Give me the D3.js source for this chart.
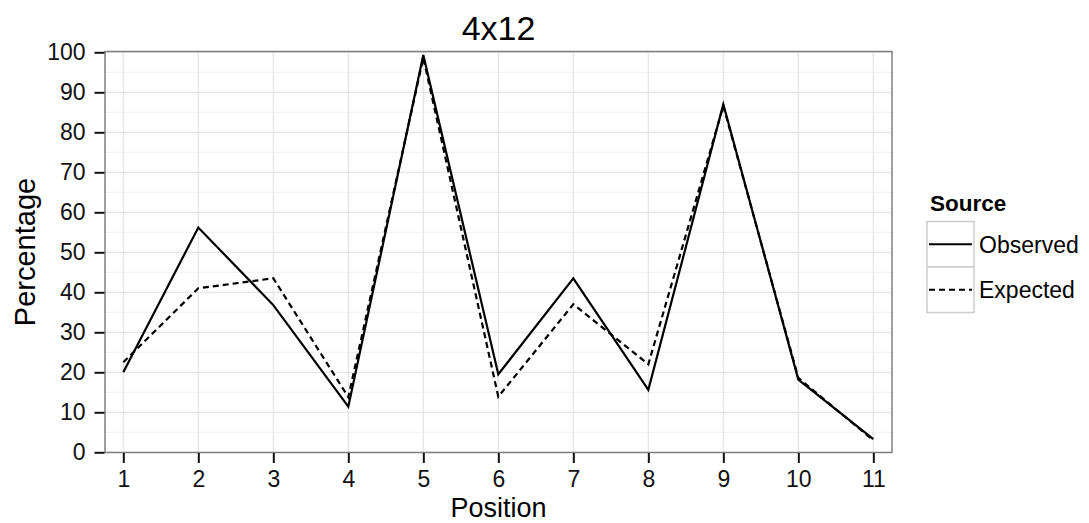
<!DOCTYPE html>
<html><head><meta charset="utf-8">
<script src="https://cdn.jsdelivr.net/npm/d3@7"></script>
<style>body{margin:0;background:#fff;} text{font-family:"Liberation Sans",Arial,sans-serif;}</style>
</head><body>
<script>
const positions = [1,2,3,4,5,6,7,8,9,10,11];
const observed = [20, 56.2, 36.8, 11.4, 99.3, 19.5, 43.5, 15.6, 87, 18.2, 3.3];
const expected = [22.5, 41, 43.5, 13.8, 98.6, 13.9, 37, 22, 86.6, 18.6, 3];
const yTicks = [0,10,20,30,40,50,60,70,80,90,100];
const yMinor = [5,15,25,35,45,55,65,75,85,95];
const seriesNames = ["Observed","Expected"];
const chartTitle = "4x12";

const W = 1089, H = 523;
const pL = 105, pR = 892, pT = 51.5, pB = 452.5;
const svg = d3.select("body").append("svg").attr("width", W).attr("height", H);

const x = d3.scaleLinear().domain([0.756, 11.249]).range([pL, pR]);
const y = d3.scaleLinear().domain([0, 100]).range([452.3, 52.3]);

svg.append("rect").attr("x", pL).attr("y", pT).attr("width", pR-pL).attr("height", pB-pT).attr("fill", "#fff");

const g = svg.append("g");
g.selectAll(".ymin").data(yMinor).enter().append("line")
  .attr("x1", pL).attr("x2", pR).attr("y1", d=>y(d)).attr("y2", d=>y(d))
  .attr("stroke", "#f3f3f3").attr("stroke-width", 1.3);
g.selectAll(".ymaj").data(yTicks).enter().append("line")
  .attr("x1", pL).attr("x2", pR).attr("y1", d=>y(d)).attr("y2", d=>y(d))
  .attr("stroke", "#e6e6e6").attr("stroke-width", 1.3);
g.selectAll(".xmaj").data(positions).enter().append("line")
  .attr("y1", pT).attr("y2", pB).attr("x1", d=>x(d)).attr("x2", d=>x(d))
  .attr("stroke", "#e6e6e6").attr("stroke-width", 1.3);

const line = d3.line().x((d,i)=>x(positions[i])).y(d=>y(d));
svg.append("path").datum(expected).attr("d", line).attr("fill","none")
  .attr("stroke","#000").attr("stroke-width",2.2).attr("stroke-dasharray","6,4");
svg.append("path").datum(observed).attr("d", line).attr("fill","none")
  .attr("stroke","#000").attr("stroke-width",2.2);

svg.append("rect").attr("x", pL).attr("y", pT).attr("width", pR-pL).attr("height", pB-pT)
  .attr("fill", "none").attr("stroke", "#7f7f7f").attr("stroke-width", 1.5);

// axes
const yAxis = d3.axisLeft(y).tickValues(yTicks).tickSize(10).tickPadding(9);
const ya = svg.append("g").attr("transform", `translate(${pL-0.5},0)`).call(yAxis);
const xAxis = d3.axisBottom(x).tickValues(positions).tickSize(10).tickPadding(7.5);
const xa = svg.append("g").attr("transform", `translate(0,${pB+0.5})`).call(xAxis);
[ya, xa].forEach(a => {
  a.select(".domain").remove();
  a.selectAll(".tick line").attr("stroke", "#111").attr("stroke-width", 2);
  a.selectAll(".tick text").attr("fill", "#111").style("font-size", "23px")
   .style("font-family", '"Liberation Sans", Arial, sans-serif');
});

svg.append("text").attr("x", (pL+pR)/2).attr("y", 40).attr("text-anchor","middle")
  .style("font-size","34px").attr("fill","#000").text(chartTitle);
svg.append("text").attr("x", (pL+pR)/2).attr("y", 517).attr("text-anchor","middle")
  .style("font-size","27px").attr("fill","#000").text("Position");
svg.append("text").attr("transform", `translate(35,${(pT+pB)/2}) rotate(-90)`).attr("text-anchor","middle")
  .style("font-size","29px").attr("fill","#000").text("Percentage");

// legend
const lg = svg.append("g");
lg.append("text").attr("x", 930).attr("y", 211).style("font-size","22.5px").style("font-weight","bold")
  .attr("fill","#000").text("Source");
const keyTop = 221.5, keyH = 45.5, keyX = 927, keyW = 47;
seriesNames.forEach((name, i) => {
  const ky = keyTop + i*keyH;
  lg.append("rect").attr("x", keyX).attr("y", ky).attr("width", keyW).attr("height", keyH)
    .attr("fill","#fff").attr("stroke","#cccccc").attr("stroke-width",1.5);
  lg.append("line").attr("x1", keyX+2).attr("x2", keyX+keyW-2).attr("y1", ky+keyH/2).attr("y2", ky+keyH/2)
    .attr("stroke","#000").attr("stroke-width",2.2).attr("stroke-dasharray", i===1 ? "6,4" : null);
  lg.append("text").attr("x", 979).attr("y", ky+keyH/2).attr("dy","0.36em")
    .style("font-size","23px").attr("fill","#000").text(name);
});
</script>
</body></html>
